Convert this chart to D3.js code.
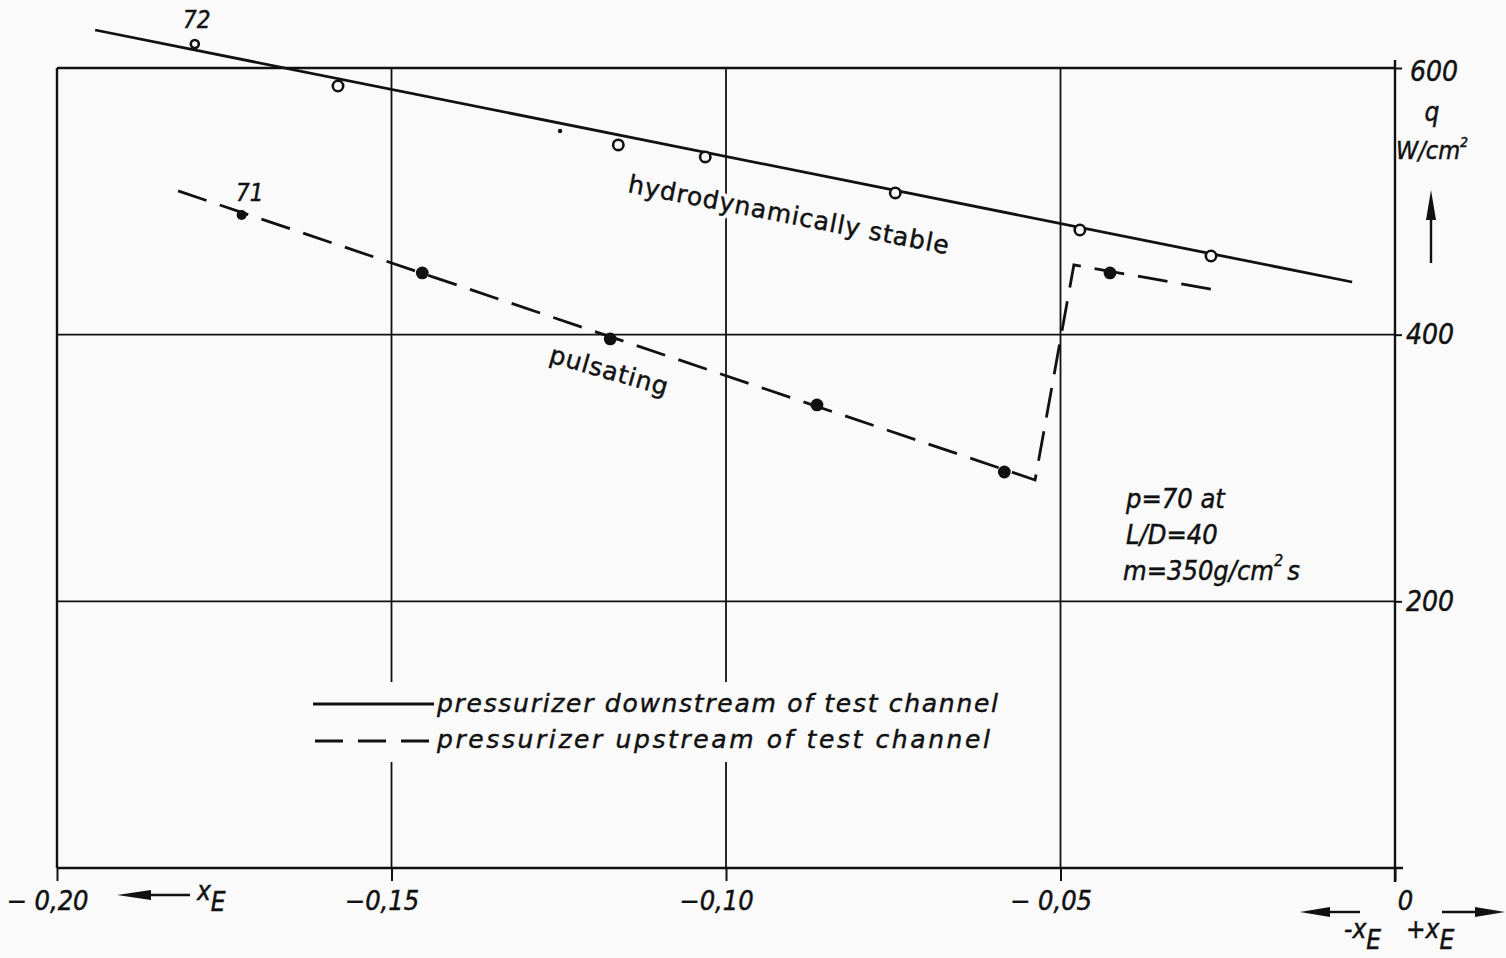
<!DOCTYPE html>
<html>
<head>
<meta charset="utf-8">
<script src="https://cdn.jsdelivr.net/npm/d3@7"></script>
<style>
  html, body { margin: 0; padding: 0; background: #fafafa; }
  svg { display: block; }
  text { font-family: "DejaVu Sans Condensed", "DejaVu Sans", sans-serif; fill: #111; stroke: #111; stroke-width: 0.45px; }
  text.wide { font-family: "DejaVu Sans", sans-serif; }
  text.halo { fill: #fafafa; stroke: #fafafa; stroke-width: 8px; stroke-linejoin: round; }
</style>
</head>
<body>
<svg id="chart" width="1506" height="958"></svg>
<script>
// Axis ticks
const xTicks = [-0.20, -0.15, -0.10, -0.05, 0];
const xTickLabels = ["− 0,20", "−0,15", "−0,10", "− 0,05", "0"];
const yTicks = [200, 400, 600];
const yTickLabels = ["200", "400", "600"];

// Pressurizer downstream of test channel (hydrodynamically stable), open circles
const stableX = [-0.1794, -0.1580, -0.1161, -0.1031, -0.0747, -0.0471, -0.0275];
const stableQ = [618, 586.5, 542.3, 533.3, 506.3, 478.5, 459];
// fitted straight line through the stable points
const stableFitX = [-0.1943, -0.0064];
const stableFitQ = [628.5, 439.5];
// small isolated dot near the stable line
const strayX = [-0.1248];
const strayQ = [552.8];

// Pressurizer upstream of test channel (pulsating), filled circles
const pulsX = [-0.1724, -0.1454, -0.1173, -0.0864, -0.0584, -0.0426];
const pulsQ = [489.8, 446.3, 396.8, 347.3, 297, 446.3];
// dashed curve through the upstream points, with the jump near x = -0.05
const pulsPathX = [-0.1819, -0.0538, -0.0480, -0.0259];
const pulsPathQ = [507.8, 291, 452.3, 432.8];

// run numbers written next to the first points
const runLabels = [
  { text: "72", x: -0.1794, q: 618, dx: 2, dy: -16 },
  { text: "71", x: -0.1724, q: 489.8, dx: 8, dy: -14 }
];

const svg = d3.select("#chart");
const x = d3.scaleLinear().domain([-0.20, 0]).range([57, 1395]);
const y = d3.scaleLinear().domain([0, 600]).range([868, 68]);

const ink = "#111";
const paper = "#fafafa";

// grid lines
svg.append("g").selectAll("line.v")
  .data(xTicks.slice(1, -1)).join("line")
  .attr("x1", d => x(d)).attr("x2", d => x(d))
  .attr("y1", y(600)).attr("y2", y(0))
  .attr("stroke", ink).attr("stroke-width", 1.8);
svg.append("g").selectAll("line.h")
  .data([200, 400]).join("line")
  .attr("x1", x(-0.2)).attr("x2", x(0))
  .attr("y1", d => y(d)).attr("y2", d => y(d))
  .attr("stroke", ink).attr("stroke-width", 1.8);

// frame
const frame = svg.append("g").attr("stroke", ink).attr("stroke-width", 2.4);
frame.append("line").attr("x1", x(-0.2)).attr("x2", x(0)).attr("y1", y(600)).attr("y2", y(600));
frame.append("line").attr("x1", x(-0.2)).attr("x2", x(-0.2)).attr("y1", y(600)).attr("y2", y(0));
frame.append("line").attr("x1", x(0)).attr("x2", x(0)).attr("y1", y(600) - 8).attr("y2", y(0) + 14);
frame.append("line").attr("x1", x(-0.2)).attr("x2", x(0) + 8).attr("y1", y(0)).attr("y2", y(0));

// bottom axis
const xAxis = svg.append("g")
  .attr("transform", `translate(0,${y(0)})`)
  .call(d3.axisBottom(x).tickValues(xTicks)
    .tickFormat((d, i) => xTickLabels[i]).tickSize(13).tickPadding(10));
xAxis.select(".domain").remove();
xAxis.selectAll(".tick line").attr("stroke", ink).attr("stroke-width", 2);
xAxis.selectAll(".tick text")
  .attr("font-size", 27).attr("font-style", "italic")
  .attr("fill", ink)
  .attr("dx", (d, i) => i === xTicks.length - 1 ? 10 : -10);

// right axis
const yAxis = svg.append("g")
  .attr("transform", `translate(${x(0)},0)`)
  .call(d3.axisRight(y).tickValues(yTicks)
    .tickFormat((d, i) => yTickLabels[i]).tickSize(7).tickPadding(4));
yAxis.select(".domain").remove();
yAxis.selectAll(".tick line").attr("stroke", ink).attr("stroke-width", 2);
yAxis.selectAll(".tick text")
  .attr("font-size", 28).attr("font-style", "italic").attr("fill", ink)
  .attr("dx", (d, i) => i === 2 ? 4 : 0).attr("dy", (d, i) => i === 2 ? "0.45em" : "0.32em");

// axis quantity and unit
svg.append("text").attr("x", 1432).attr("y", 121).attr("text-anchor", "middle")
  .attr("font-size", 26).attr("font-style", "italic").text("q");
const unit = svg.append("text").attr("x", 1432).attr("y", 159).attr("text-anchor", "middle")
  .attr("font-size", 25).attr("font-style", "italic");
unit.append("tspan").text("W/cm");
unit.append("tspan").attr("font-size", 14).attr("dy", -12).text("2");

// arrow helper
function arrow(x1, y1, x2, y2, head) {
  const a = Math.atan2(y2 - y1, x2 - x1);
  const L = head.len, W = head.w;
  const bx = x2 - L * Math.cos(a), by = y2 - L * Math.sin(a);
  svg.append("line").attr("x1", x1).attr("y1", y1).attr("x2", bx).attr("y2", by)
    .attr("stroke", ink).attr("stroke-width", 2.4);
  const px = -Math.sin(a) * W, py = Math.cos(a) * W;
  svg.append("path")
    .attr("d", `M${x2},${y2}L${bx + px},${by + py}L${bx - px},${by - py}Z`)
    .attr("fill", ink);
}
arrow(1431, 263, 1431, 190, { len: 30, w: 5 });
arrow(190, 895, 117, 895, { len: 34, w: 5 });
arrow(1360, 912, 1300, 912, { len: 30, w: 5 });
arrow(1442, 912, 1505, 912, { len: 30, w: 5 });

// x axis quantity
function xE(xp, yp, sign) {
  const t = svg.append("text").attr("x", xp).attr("y", yp)
    .attr("font-size", 26).attr("font-style", "italic");
  if (sign) t.append("tspan").text(sign);
  t.append("tspan").text("x");
  t.append("tspan").attr("dy", 11).text("E");
}
xE(197, 900, null);
xE(1344, 938, "-");
xE(1406, 938, "+");

// clear the grid behind the legend block
svg.append("rect").attr("x", 300).attr("y", 682).attr("width", 710).attr("height", 80)
  .attr("fill", paper);

// data lines
const line = d3.line().x(d => x(d[0])).y(d => y(d[1]));
svg.append("path")
  .attr("d", line(stableFitX.map((v, i) => [v, stableFitQ[i]])))
  .attr("fill", "none").attr("stroke", ink).attr("stroke-width", 2.8);
svg.append("path")
  .attr("d", line(pulsPathX.map((v, i) => [v, pulsPathQ[i]])))
  .attr("fill", "none").attr("stroke", ink).attr("stroke-width", 2.8)
  .attr("stroke-dasharray", "30,14").attr("stroke-linejoin", "miter");

// points
svg.append("g").selectAll("circle")
  .data(stableX.map((v, i) => [v, stableQ[i]])).join("circle")
  .attr("cx", d => x(d[0])).attr("cy", d => y(d[1]))
  .attr("r", (d, i) => i === 0 ? 4 : 5.2)
  .attr("fill", paper).attr("stroke", ink).attr("stroke-width", 2.6);
svg.append("g").selectAll("circle")
  .data(strayX.map((v, i) => [v, strayQ[i]])).join("circle")
  .attr("cx", d => x(d[0])).attr("cy", d => y(d[1])).attr("r", 2.2).attr("fill", ink);
svg.append("g").selectAll("circle")
  .data(pulsX.map((v, i) => [v, pulsQ[i]])).join("circle")
  .attr("cx", d => x(d[0])).attr("cy", d => y(d[1]))
  .attr("r", (d, i) => i === 0 ? 5 : 6.4).attr("fill", ink);

// run numbers
svg.append("g").selectAll("text")
  .data(runLabels).join("text")
  .attr("x", d => x(d.x) + d.dx).attr("y", d => y(d.q) + d.dy)
  .attr("text-anchor", "middle").attr("font-size", 24).attr("font-style", "italic")
  .text(d => d.text);

// region labels (stable label is haloed so the grid line breaks around it)
function regionLabel(txt, tx, ty, rot, len, halo) {
  const cls = halo ? ["wide halo", "wide"] : ["wide"];
  cls.forEach(c => {
    svg.append("text").attr("class", c)
      .attr("transform", `translate(${tx},${ty}) rotate(${rot})`)
      .attr("font-size", 25).attr("textLength", len).attr("lengthAdjust", "spacing")
      .text(txt);
  });
}
regionLabel("hydrodynamically stable", 627, 192, 11, 326, true);
regionLabel("pulsating", 548, 362, 16, 122, false);

// test conditions
const cond = svg.append("g").attr("font-size", 27).attr("font-style", "italic");
cond.append("text").attr("x", 1126).attr("y", 508).text("p=70 at");
cond.append("text").attr("x", 1126).attr("y", 544).text("L/D=40");
const m = cond.append("text").attr("x", 1123).attr("y", 580);
m.append("tspan").text("m=350g/cm");
m.append("tspan").attr("font-size", 16).attr("dy", -14).text("2");
m.append("tspan").attr("dy", 14).attr("dx", 4).text("s");

// legend
const legend = svg.append("g");
legend.append("line").attr("x1", 313).attr("x2", 434).attr("y1", 704).attr("y2", 704)
  .attr("stroke", ink).attr("stroke-width", 2.8);
legend.append("line").attr("x1", 315).attr("x2", 434).attr("y1", 741).attr("y2", 741)
  .attr("stroke", ink).attr("stroke-width", 2.8).attr("stroke-dasharray", "28,15");
legend.append("text").attr("class", "wide").attr("x", 437).attr("y", 712)
  .attr("font-size", 25).attr("font-style", "italic")
  .attr("textLength", 561).attr("lengthAdjust", "spacing")
  .text("pressurizer downstream of test channel");
legend.append("text").attr("class", "wide").attr("x", 437).attr("y", 748)
  .attr("font-size", 25).attr("font-style", "italic")
  .attr("textLength", 553).attr("lengthAdjust", "spacing")
  .text("pressurizer  upstream of test  channel");
</script>
</body>
</html>
